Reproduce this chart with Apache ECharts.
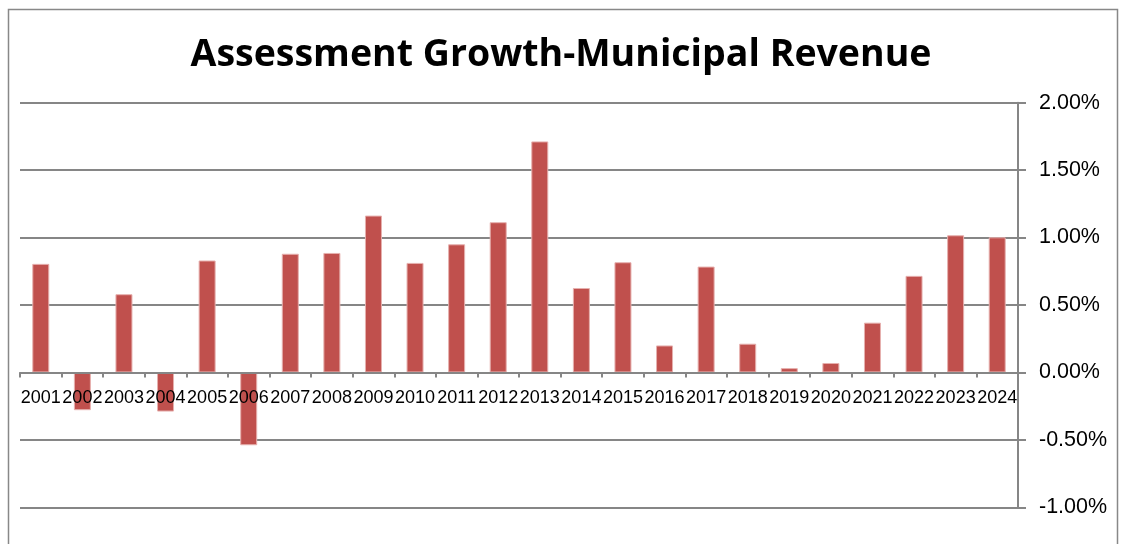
<!DOCTYPE html>
<html lang="en">
<head>
    <meta charset="UTF-8">
    <title>Assessment Growth-Municipal Revenue</title>
    <style>
        html, body { margin: 0; padding: 0; background: #fff; }
    </style>
</head>
<body>
<div id="main" style="width: 1122px;height:544px;"></div>
<script src="https://cdn.jsdelivr.net/npm/echarts@6/dist/echarts.min.js"></script>
<script>
    var years = ['2001', '2002', '2003', '2004', '2005', '2006', '2007', '2008',
        '2009', '2010', '2011', '2012', '2013', '2014', '2015', '2016',
        '2017', '2018', '2019', '2020', '2021', '2022', '2023', '2024'];
    // growth in percent
    var growth = [0.805, -0.28, 0.58, -0.29, 0.83, -0.54, 0.88, 0.886,
        1.163, 0.812, 0.95, 1.114, 1.713, 0.626, 0.817, 0.20,
        0.785, 0.213, 0.032, 0.07, 0.369, 0.716, 1.017, 1.002];

    var myChart = echarts.init(document.getElementById('main'));

    // plot height over 3% -> zero line sits 1/3 up from the bottom
    var plotH = 544 - 102.7 - 36.7;

    var option = {
        animation: false,
        backgroundColor: '#fff',
        title: {
            text: 'Assessment Growth-Municipal Revenue',
            left: 'center',
            top: 31,
            textStyle: {
                fontFamily: 'Open Sans',
                fontWeight: 'bold',
                fontSize: 37.5,
                color: '#000'
            }
        },
        graphic: [
            {
                type: 'rect',
                shape: { x: 8.5, y: 9.5, width: 1109, height: 600 },
                style: { fill: 'none', stroke: '#888', lineWidth: 1.5 },
                silent: true
            }
        ],
        grid: {
            left: 20,
            right: 104,
            top: 102.7,
            bottom: 36.7
        },
        xAxis: {
            type: 'category',
            data: years,
            position: 'bottom',
            offset: -plotH / 3,
            z: 5,
            axisLine: { onZero: false, lineStyle: { color: '#868686', width: 2 } },
            axisTick: { show: true, length: 5, lineStyle: { color: '#868686', width: 2 } },
            axisLabel: {
                interval: 0,
                margin: 17,
                fontFamily: 'Liberation Sans',
                fontSize: 18,
                color: '#000'
            },
            splitLine: { show: false }
        },
        yAxis: {
            type: 'value',
            position: 'right',
            min: -1,
            max: 2,
            interval: 0.5,
            axisLine: { show: true, lineStyle: { color: '#868686', width: 2 } },
            axisTick: { show: true, length: 8, inside: false, lineStyle: { color: '#868686', width: 2 } },
            axisLabel: {
                margin: 21,
                fontFamily: 'Liberation Sans',
                fontSize: 21.5,
                color: '#000',
                formatter: function (v) {
                    return v.toFixed(2) + '%';
                }
            },
            splitLine: { show: true, lineStyle: { color: '#868686', width: 2 } }
        },
        series: [
            {
                name: 'Growth',
                type: 'bar',
                data: growth,
                barWidth: 17,
                itemStyle: {
                    color: '#C0504D',
                    borderColor: '#E6B0AE',
                    borderWidth: 1
                }
            }
        ]
    };

    myChart.setOption(option);
</script>
</body>
</html>
